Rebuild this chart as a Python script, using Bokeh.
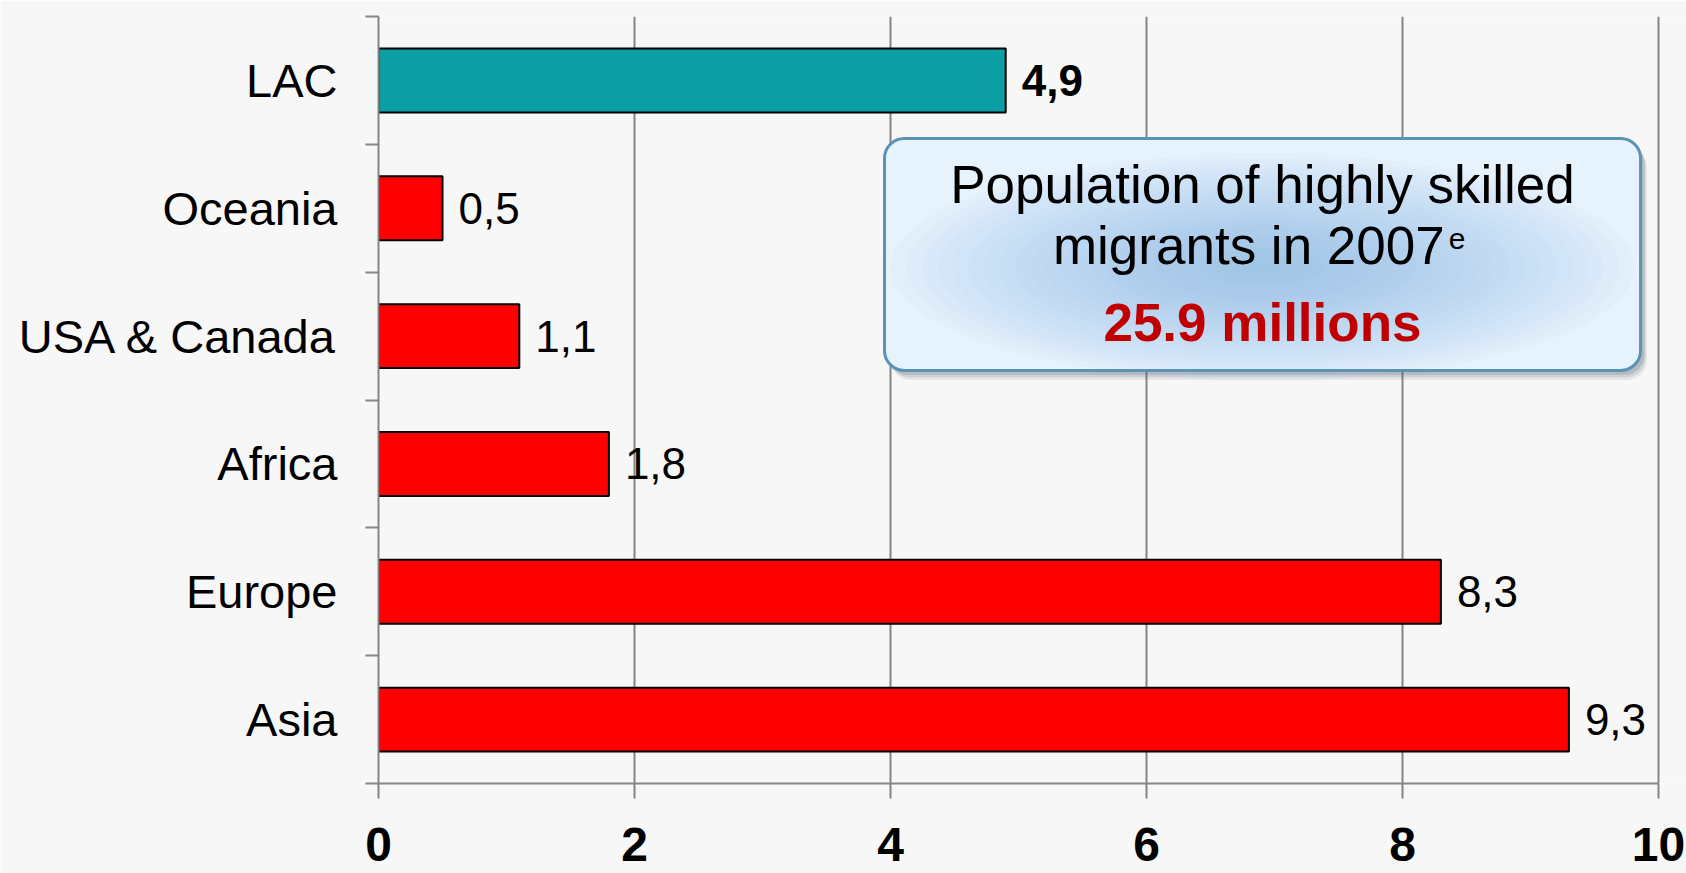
from bokeh.plotting import figure
from bokeh.models import Range1d, FixedTicker, ColumnDataSource
from bokeh.core.properties import value
from bokeh.embed import file_html
from bokeh.resources import INLINE

# Highly skilled migrants by region of origin (millions), bottom to top
regions = ["Asia", "Europe", "Africa", "USA & Canada", "Oceania", "LAC"]
migrants = [9.3, 8.3, 1.8, 1.1, 0.5, 4.9]
x_ticks = [0, 2, 4, 6, 8, 10]
highlight = "LAC"

box_line1 = "Population of highly skilled"
box_line2 = "migrants in 2007"
box_sup = "e"
box_total = "25.9 millions"

FONT = "Liberation Sans"
RED = "#ff0000"
TEAL = "#0b9ea3"
GRID = "#858585"
BG = "#f7f7f7"

# canvas geometry (pixels)
W, H = 1686, 873
FRAME_LEFT, FRAME_TOP, AXIS_Y = 378, 16, 783
PX_PER_X = 128.0
n_cat = len(regions)
x_end = (W - FRAME_LEFT) / PX_PER_X

pos = [i + 0.5 for i in range(n_cat)]
colors = [TEAL if r == highlight else RED for r in regions]
labels = [f"{v:.1f}".replace(".", ",") for v in migrants]
weights = ["bold" if r == highlight else "normal" for r in regions]

src = ColumnDataSource(dict(y=pos, right=migrants, color=colors,
                            label=labels, weight=weights))

p = figure(width=W, height=H, output_backend="svg", toolbar_location=None,
           x_range=Range1d(0, x_end), y_range=Range1d(0, n_cat),
           min_border_left=FRAME_LEFT, min_border_right=0,
           min_border_top=FRAME_TOP, min_border_bottom=H - AXIS_Y)
p.background_fill_color = BG
p.border_fill_color = BG
p.outline_line_color = None

# vertical gridlines only
p.ygrid.visible = False
p.xgrid.ticker = FixedTicker(ticks=x_ticks, minor_ticks=[])
p.xgrid.grid_line_color = GRID
p.xgrid.grid_line_width = 2

# bars and value labels
p.hbar(y="y", left=0, right="right", height=0.5, fill_color="color",
       line_color="black", line_width=2, source=src)
p.text(x="right", y="y", text="label", x_offset=16, text_baseline="middle",
       text_align="left", text_font=value(FONT), text_font_size="44px",
       text_font_style="weight", text_color="black", source=src)

# rounded call-out box: soft shadow, pale fill, radial blue gradient, border
bl, br, bt, bb = 3.953, 9.86, 5.046, 3.231
RADIUS = 20
for dx, dy, a in [(0.05, -0.075, 0.10), (0.04, -0.055, 0.14), (0.03, -0.035, 0.2)]:
    p.quad(left=bl + dx, right=br + dx, top=bt + dy, bottom=bb + dy,
           fill_color="#4f5f6c", fill_alpha=a, line_color=None,
           border_radius=RADIUS)
p.quad(left=bl, right=br, top=bt, bottom=bb, fill_color="#e6f2fc",
       line_color=None, border_radius=RADIUS)
cx, cy = (bl + br) / 2, (bt + bb) / 2 - 0.1
n_rings = 24
for k in range(n_rings):
    f = 1 - k / n_rings
    p.ellipse(x=cx, y=cy, width=(br - bl - 0.1) * f, height=(bt - bb - 0.04) * f,
              fill_color="#8bbdf0", fill_alpha=0.04, line_color=None)
p.quad(left=bl, right=br, top=bt, bottom=bb, fill_color=None,
       line_color="#5a93b3", line_width=3, border_radius=RADIUS)

p.text(x=[6.906], y=[4.686], text=[box_line1], text_align="center",
       text_baseline="middle", text_font=value(FONT), text_font_size="53px",
       text_color="black")
p.text(x=[8.33], y=[4.209], text=[box_line2], text_align="right",
       text_baseline="middle", text_font=value(FONT), text_font_size="53px",
       text_color="black")
p.text(x=[8.33], y=[4.209], text=[box_sup], text_align="left", x_offset=4,
       y_offset=-6, text_baseline="middle", text_font=value(FONT),
       text_font_size="30px", text_color="black")
p.text(x=[6.906], y=[3.606], text=[box_total], text_align="center",
       text_baseline="middle", text_font=value(FONT), text_font_size="53px",
       text_font_style="bold", text_color="#c00000")

# category axis: names at band centres, tick marks at band edges
ya = p.yaxis[0]
ya.ticker = FixedTicker(ticks=pos, minor_ticks=list(range(n_cat + 1)))
ya.major_label_overrides = {pp: r for pp, r in zip(pos, regions)}
ya.major_tick_out = 0
ya.major_tick_in = 0
ya.minor_tick_out = 13
ya.minor_tick_in = 0
ya.minor_tick_line_color = GRID
ya.minor_tick_line_width = 2
ya.axis_line_color = GRID
ya.axis_line_width = 2
ya.major_label_standoff = 28
ya.major_label_text_font = FONT
ya.major_label_text_font_size = "47px"
ya.major_label_text_color = "black"

# value axis
xa = p.xaxis[0]
xa.ticker = FixedTicker(ticks=x_ticks, minor_ticks=[])
xa.bounds = (x_ticks[0], x_ticks[-1])
xa.major_tick_out = 15
xa.major_tick_in = 0
xa.major_tick_line_color = GRID
xa.major_tick_line_width = 2
xa.axis_line_color = GRID
xa.axis_line_width = 2
xa.major_label_standoff = 29
xa.major_label_text_font = FONT
xa.major_label_text_font_size = "48px"
xa.major_label_text_font_style = "bold"
xa.major_label_text_color = "black"

open("out.html", "w").write(file_html(p, INLINE))
